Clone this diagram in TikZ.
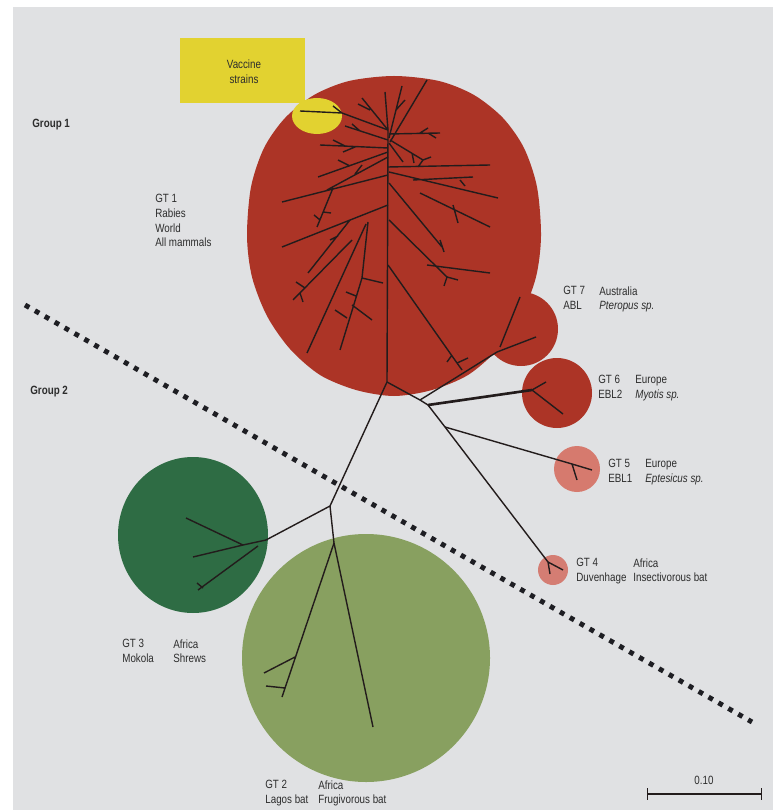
\documentclass[tikz,border=0pt]{standalone}
\usepackage{fontspec}
\newfontfamily\labelfont[FakeStretch=0.82]{Liberation Sans}
\definecolor{paper}{RGB}{224,225,227}
\definecolor{vaccine}{RGB}{226,210,48}
\definecolor{rabies}{RGB}{172,52,38}
\definecolor{eblone}{RGB}{214,122,110}
\definecolor{duven}{RGB}{212,125,115}
\definecolor{mokola}{RGB}{46,108,68}
\definecolor{lagos}{RGB}{136,160,96}
\definecolor{treeline}{RGB}{35,28,28}
\definecolor{dots}{RGB}{30,30,35}
\definecolor{labeltext}{RGB}{45,45,45}
\begin{document}
\begin{tikzpicture}[x = 0.02cm, y = -0.02cm,
            branch/.style = {line width = 0.8pt, draw = treeline},
            label/.style = {anchor = north west, inner sep = 0pt, align = left, text = labeltext,
                font = \labelfont\fontsize{6.8}{8.4}\selectfont},
            group/.style = {anchor = north west, inner sep = 0pt, text = labeltext,
                font = \labelfont\bfseries\fontsize{6.8}{8}\selectfont}]
            \useasboundingbox (0, 0) rectangle (773, 810);
            \clip (0, 0) rectangle (773, 810);
            \fill [white] (0, 0) rectangle (773, 810);
            \fill [paper] (13, 7) rectangle (773, 810);
            % circles
            \fill [vaccine] (180, 38) rectangle (305, 103);
            \fill [rabies] plot [smooth cycle] coordinates {(541, 236) (536, 277) (521, 316)
                (498, 349) (468, 375) (432, 390) (394, 396) (356, 390) (320, 375) (290, 349)
                (267, 316) (252, 277) (247, 236) (251, 187) (264, 148) (285, 118) (314, 95)
                (349, 81) (394, 76) (439, 81) (474, 95) (503, 118) (524, 148) (537, 187)};
            \fill [rabies] (521, 329) circle (37);
            \fill [rabies] (557, 393) circle (35);
            \fill [eblone] (577, 469) circle (23);
            \fill [duven] (553, 570) circle (15);
            \fill [mokola] (193, 535) ellipse (75 and 78);
            \fill [lagos] (366, 658) circle (124);
            \fill [vaccine] (317, 116) ellipse (25 and 18);
            % tree
            \coordinate (r1) at (388, 130);
            \coordinate (vac) at (300, 111);
            \coordinate (j0) at (387, 382);
            \coordinate (j1) at (420, 400);
            \coordinate (j2) at (428, 405);
            \coordinate (j3) at (445, 427);
            \coordinate (j4) at (330, 506);
            \coordinate (g7) at (497, 352);
            \coordinate (g6) at (532, 390);
            \coordinate (g5) at (572, 464);
            \coordinate (g4) at (548, 562);
            \coordinate (g3) at (266, 540);
            \coordinate (g3a) at (243, 545);
            \coordinate (g2) at (334, 543);
            \draw [branch] (r1) -- (j0) -- (j1) -- (j2) -- (j3) -- (g4);
            \draw [branch] (j1) -- (g7);
            \draw [branch, line width = 1.5pt] (j2) -- (g6);
            \draw [branch] (j3) -- (g5);
            \draw [branch] (j0) -- (j4) -- (g3) -- (g3a);
            \draw [branch] (j4) -- (g2);
            \draw [branch] (r1) -- (342, 113) -- (vac) (342, 113) -- (333, 106);
            \draw [branch] (g7) -- (536, 337) (500, 347) -- (520, 297);
            \draw [branch] (g6) -- (546, 382) (g6) -- (563, 414);
            \draw [branch] (g5) -- (592, 470) (g5) -- (577, 480);
            \draw [branch] (g4) -- (563, 570) (g4) -- (550, 574);
            \draw [branch] (g3a) -- (186, 518) (g3a) -- (193, 557) (258, 546) -- (198, 590)
                (197, 583) -- (203, 588);
            \draw [branch] (g2) -- (373, 727);
            \draw [branch] (g2) -- (282, 697) (295, 657) -- (264, 673) (285, 688) -- (266, 686);
            % crown of group 1
            \draw [branch]
                (r1) -- (362, 98) (370, 110) -- (358, 104)
                (r1) -- (385, 92)
                (389, 138) -- (402, 86) (396, 110) -- (405, 100)
                (390, 142) -- (427, 80)
                (388, 140) -- (345, 126) (360, 131) -- (352, 124)
                (389, 134) -- (440, 133) (420, 133) -- (428, 128) (428, 133) -- (436, 138)
                (390, 140) -- (423, 160) (412, 153) -- (414, 163) (423, 160) -- (431, 157)
                (423, 160) -- (418, 167)
                (389, 143) -- (403, 162)
                (388, 148) -- (320, 145) (345, 146) -- (333, 140) (355, 147) -- (343, 152)
                (388, 152) -- (318, 177) (350, 166) -- (338, 160)
                (388, 157) -- (327, 190) (355, 174) -- (362, 165)
                (388, 175) -- (282, 202) (333, 188) -- (317, 227) (323, 212) -- (331, 213)
                (320, 220) -- (314, 215)
                (388, 205) -- (282, 247) (350, 220) -- (308, 273) (330, 240) -- (338, 236)
                (366, 224) -- (307, 353)
                (368, 222) -- (362, 278) -- (340, 350) (362, 278) -- (383, 283)
                (356, 296) -- (346, 292) (352, 305) -- (372, 320) (347, 318) -- (335, 310)
                (352, 240) -- (293, 300) (305, 288) -- (296, 282) (300, 293) -- (303, 302)
                (388, 167) -- (490, 165)
                (389, 172) -- (498, 198) (413, 180) -- (473, 177) (460, 180) -- (465, 186)
                (420, 193) -- (490, 227) (453, 205) -- (458, 223)
                (389, 183) -- (442, 247) (440, 240) -- (444, 252)
                (389, 220) -- (447, 277) (427, 265) -- (490, 273) (447, 277) -- (458, 280)
                (447, 277) -- (444, 286)
                (388, 265) -- (457, 363) (457, 363) -- (468, 358) (452, 355) -- (447, 362)
                (457, 363) -- (462, 370);
            % dividing line
            \coordinate (d1) at (25, 305);
            \coordinate (d2) at (752, 722);
            \draw [dots, line width = 2.8pt, dash pattern = on 2.8pt off 3.7pt] (d1) -- (d2);
            % labels
            \node (vacclab) [label, anchor = center, align = center] at (244, 72) {Vaccine\\strains};
            \node (grpone) [group] at (32, 119) {Group 1};
            \node (grptwo) [group] at (30, 386) {Group 2};
            \node (gtone) [label] at (155, 194) {GT 1\\Rabies\\World\\All mammals};
            \node (gtsevena) [label] at (563, 286) {GT 7\\ABL};
            \node (gtsevenb) [label] at (599, 286) {Australia\\\textit{Pteropus sp.}};
            \node (gtsixa) [label] at (598, 375) {GT 6\\EBL2};
            \node (gtsixb) [label] at (635, 375) {Europe\\\textit{Myotis sp.}};
            \node (gtfivea) [label] at (608, 459) {GT 5\\EBL1};
            \node (gtfiveb) [label] at (645, 459) {Europe\\\textit{Eptesicus sp.}};
            \node (gtfoura) [label] at (576, 558) {GT 4\\Duvenhage};
            \node (gtfourb) [label] at (633, 558) {Africa\\Insectivorous bat};
            \node (gtthreea) [label] at (122, 639) {GT 3\\Mokola};
            \node (gtthreeb) [label] at (173, 639) {Africa\\Shrews};
            \node (gttwoa) [label] at (265, 780) {GT 2\\Lagos bat};
            \node (gttwob) [label] at (318, 780) {Africa\\Frugivorous bat};
            % scale bar
            \coordinate (sbl) at (647, 794);
            \coordinate (sbr) at (762, 794);
            \draw [|-|, line width = 0.8pt, treeline] (sbl) -- (sbr);
            \node (sblab) [label, anchor = base] at (704, 784) {0.10};
        \end{tikzpicture}
\end{document}
